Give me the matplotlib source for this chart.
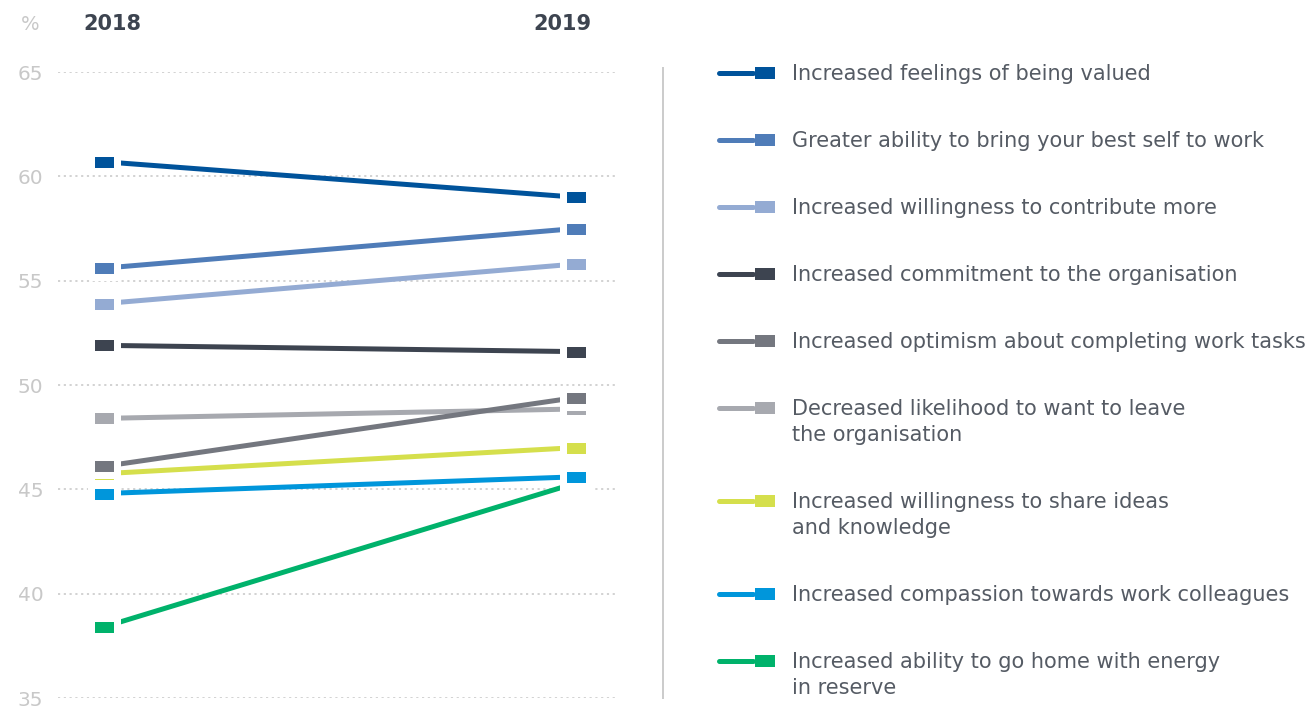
import matplotlib
matplotlib.use("Agg")
import matplotlib.pyplot as plt
from matplotlib.path import Path
from matplotlib.lines import Line2D
import numpy as np

plt.rcParams['font.family'] = ['DejaVu Sans']

years = ["2018", "2019"]
labels = [
    "Increased feelings of being valued",
    "Greater ability to bring your best self to work",
    "Increased willingness to contribute more",
    "Increased commitment to the organisation",
    "Increased optimism about completing work tasks",
    "Decreased likelihood to want to leave\nthe organisation",
    "Increased willingness to share ideas\nand knowledge",
    "Increased compassion towards work colleagues",
    "Increased ability to go home with energy\nin reserve",
]
values_2018 = [60.7, 55.6, 53.9, 51.9, 46.1, 48.4, 45.75, 44.8, 38.4]
values_2019 = [59.0, 57.5, 55.8, 51.6, 49.4, 48.85, 47.0, 45.6, 45.3]
colors = ["#00539b", "#4f7cb8", "#94abd3", "#3d4450", "#74777f",
          "#a7a9af", "#d5df4c", "#0096db", "#00b26b"]
yticks = [35, 40, 45, 50, 55, 60, 65]

W, H = 1316, 706
fig = plt.figure(figsize=(W / 100, H / 100), dpi=100)

def fx(px):
    return px / W

def fy(py):
    return 1 - py / H

ax_l, ax_r, ax_t, ax_b = 58, 617, 72, 698
ax = fig.add_axes([fx(ax_l), fy(ax_b), fx(ax_r - ax_l), (ax_b - ax_t) / H])
ax.set_ylim(35, 65)
# x positions: 0 -> 2018 marker centre, 1 -> 2019 marker centre
x0px, x1px = 103.5, 576
ppu = x1px - x0px
ax.set_xlim((ax_l - x0px) / ppu, (ax_r - x0px) / ppu)
for s in ax.spines.values():
    s.set_visible(False)
ax.set_xticks([])
ax.set_yticks(yticks)
ax.set_yticklabels([str(v) for v in yticks])
ax.tick_params(axis='y', length=0, pad=10.5, labelsize=14.5, labelcolor="#c8c8c8")
for v in yticks:
    ax.axhline(v, color="#cfcfcf", lw=1.3, linestyle=(0, (1.2, 2.0)), zorder=1)

px2pt = 0.72
ew_px = 7
mw, mh = 19 + ew_px, 11 + ew_px
verts = [(-1, -mh / mw), (1, -mh / mw), (1, mh / mw), (-1, mh / mw), (-1, -mh / mw)]
rect_marker = Path(verts, [Path.MOVETO, Path.LINETO, Path.LINETO, Path.LINETO, Path.CLOSEPOLY])

xs = [0, 1]
n = len(labels)
for i in reversed(range(n)):
    ax.plot(xs, [values_2018[i], values_2019[i]], color=colors[i], lw=5 * px2pt,
            solid_capstyle='butt', zorder=2 + (n - i) * 0.01)
for i in reversed(range(n)):
    ax.plot(xs, [values_2018[i], values_2019[i]], linestyle='none', marker=rect_marker,
            markersize=mw * px2pt, markerfacecolor=colors[i], markeredgecolor='white',
            markeredgewidth=ew_px * px2pt, zorder=3 + (n - i) * 0.01)

# headers
fig.text(fx(30), fy(24), "%", ha='center', va='center', fontsize=14, color="#c8c8c8")
fig.text(fx(112), fy(24), years[0], ha='center', va='center', fontsize=15,
         fontweight='bold', color="#3d4450")
fig.text(fx(562), fy(24), years[1], ha='center', va='center', fontsize=15,
         fontweight='bold', color="#3d4450")

# divider
fig.add_artist(Line2D([fx(663), fx(663)], [fy(68), fy(698)], color="#cccccc", lw=2 * px2pt))

# legend
y = 73
for i, lab in enumerate(labels):
    fig.add_artist(Line2D([fx(719), fx(753)], [fy(y), fy(y)], color=colors[i],
                          lw=5 * px2pt, solid_capstyle='round'))
    fig.add_artist(plt.Rectangle((fx(755), fy(y + 6)), fx(20), 12 / H,
                                 facecolor=colors[i], edgecolor='none'))
    lines = lab.split("\n")
    for k, ln in enumerate(lines):
        fig.text(fx(792), fy(y + 7 + 26 * k), ln, ha='left', va='baseline',
                 fontsize=15, color="#555b64")
    y += 67 + 26 * (len(lines) - 1)

fig.savefig("out.png", dpi=100)
